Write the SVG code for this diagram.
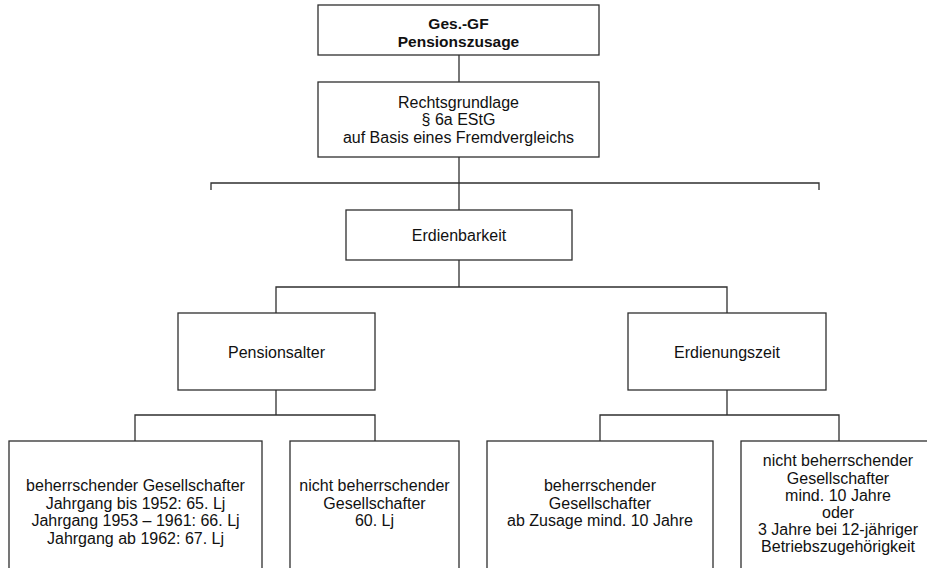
<svg xmlns="http://www.w3.org/2000/svg" width="927" height="568" viewBox="0 0 927 568">
  <style>
    .box { fill: #ffffff; stroke: #2f2f2f; stroke-width: 1.3; }
    .wire { fill: none; stroke: #2f2f2f; stroke-width: 1.3; }
    text { font-family: "Liberation Sans", Arial, sans-serif; font-size: 16px; fill: #111111; text-anchor: middle; }
    .bold { font-weight: bold; font-size: 15.5px; }
  </style>
  <rect width="927" height="568" fill="#ffffff"/>

  <!-- connectors -->
  <g id="connectors">
    <path class="wire" d="M459 55 V82"/>
    <path class="wire" d="M459 157 V210"/>
    <path class="wire" d="M211 190 V183 H819 V190"/>
    <path class="wire" d="M459 260 V287"/>
    <path class="wire" d="M276 313 V287 H727 V313"/>
    <path class="wire" d="M276 390 V415"/>
    <path class="wire" d="M135 441 V415 H375 V441"/>
    <path class="wire" d="M727 390 V415"/>
    <path class="wire" d="M600 441 V415 H839 V441"/>
  </g>

  <g id="node-zusage">
    <rect class="box" x="318" y="5" width="281" height="50"/>
    <text class="bold" x="458.5" y="29">Ges.-GF</text>
    <text class="bold" x="458.5" y="47">Pensionszusage</text>
  </g>

  <g id="node-rechtsgrundlage">
    <rect class="box" x="318" y="82" width="281" height="75"/>
    <text x="458.5" y="107.5">Rechtsgrundlage</text>
    <text x="458.5" y="125">§ 6a EStG</text>
    <text x="458.5" y="143">auf Basis eines Fremdvergleichs</text>
  </g>

  <g id="node-erdienbarkeit">
    <rect class="box" x="346" y="210" width="226" height="50"/>
    <text x="459" y="240.5">Erdienbarkeit</text>
  </g>

  <g id="node-pensionsalter">
    <rect class="box" x="178" y="313" width="197" height="77"/>
    <text x="276.5" y="357.5">Pensionsalter</text>
  </g>

  <g id="node-erdienungszeit">
    <rect class="box" x="628" y="313" width="198" height="77"/>
    <text x="727" y="357.5">Erdienungszeit</text>
  </g>

  <g id="node-alter-beherrschend">
    <rect class="box" x="9" y="441" width="253" height="140"/>
    <text x="135.5" y="491">beherrschender Gesellschafter</text>
    <text x="135.5" y="508.5">Jahrgang bis 1952: 65. Lj</text>
    <text x="135.5" y="526">Jahrgang 1953 – 1961: 66. Lj</text>
    <text x="135.5" y="543.5">Jahrgang ab 1962: 67. Lj</text>
  </g>

  <g id="node-alter-nicht-beherrschend">
    <rect class="box" x="290" y="441" width="169" height="140"/>
    <text x="374.5" y="491">nicht beherrschender</text>
    <text x="374.5" y="508.5">Gesellschafter</text>
    <text x="374.5" y="526">60. Lj</text>
  </g>

  <g id="node-zeit-beherrschend">
    <rect class="box" x="487" y="441" width="226" height="140"/>
    <text x="600" y="491">beherrschender</text>
    <text x="600" y="508.5">Gesellschafter</text>
    <text x="600" y="526">ab Zusage mind. 10 Jahre</text>
  </g>

  <g id="node-zeit-nicht-beherrschend">
    <rect class="box" x="741" y="441" width="196" height="140"/>
    <text x="838" y="466">nicht beherrschender</text>
    <text x="838" y="483.5">Gesellschafter</text>
    <text x="838" y="500.5">mind. 10 Jahre</text>
    <text x="838" y="518">oder</text>
    <text x="838" y="535">3 Jahre bei 12-jähriger</text>
    <text x="838" y="552">Betriebszugehörigkeit</text>
  </g>
</svg>
